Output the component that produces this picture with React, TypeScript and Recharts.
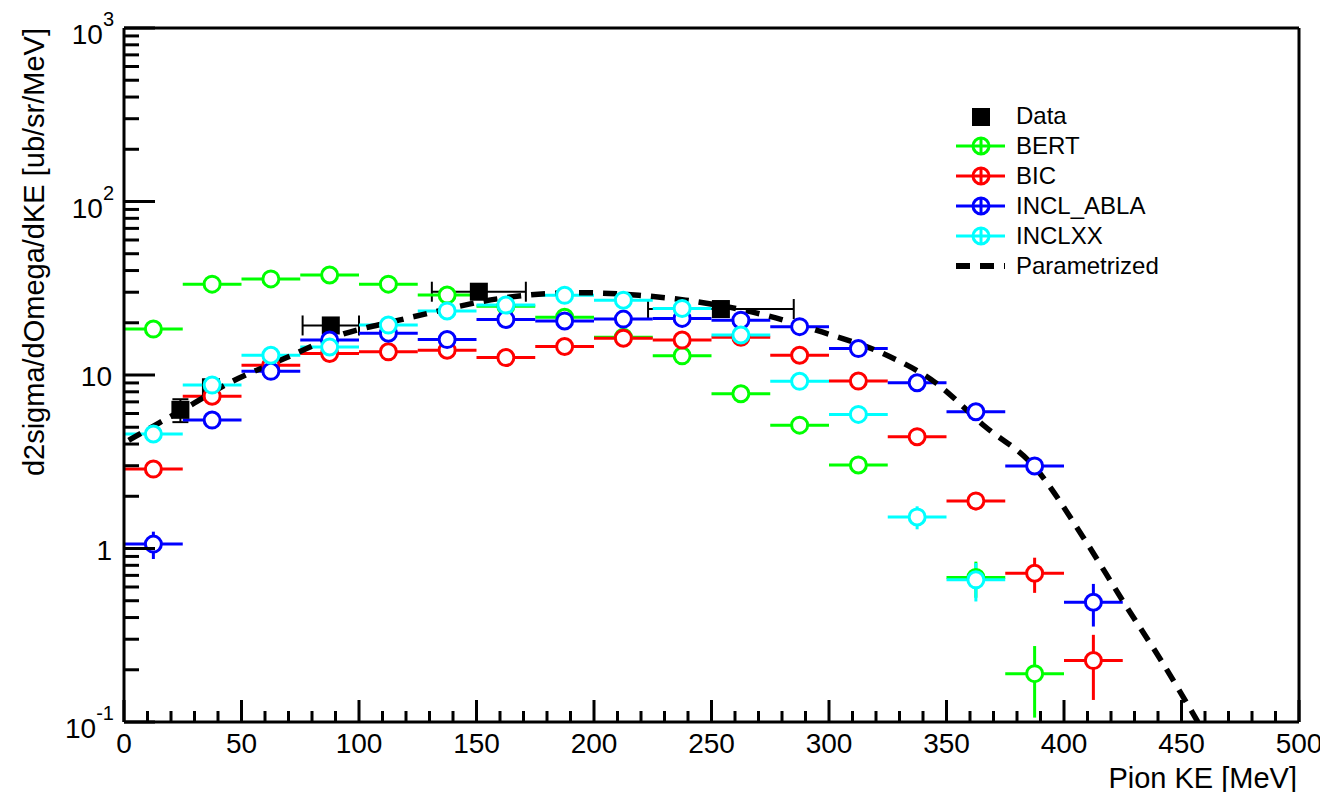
import {
  ComposedChart,
  Scatter,
  Line,
  XAxis,
  YAxis,
  ErrorBar,
  ReferenceLine,
  Legend,
  Label,
} from "recharts";

const FONT = '"Liberation Sans", Arial, Helvetica, sans-serif';

// bin centres of the model histograms (25 MeV bins)
const binCenters = [
  12.5, 37.5, 62.5, 87.5, 112.5, 137.5, 162.5, 187.5, 212.5, 237.5, 262.5,
  287.5, 312.5, 337.5, 362.5, 387.5, 412.5,
];
const binHalfWidth = 12.5;

const bertValues = [
  18.4, 33.4, 35.8, 37.7, 33.4, 28.9, 24.9, 21.5, 16.5, 12.9, 7.8, 5.14, 3.03,
  null, 0.68, 0.19, null,
];
const bertErrors = [0, 0, 0, 0, 0, 0, 0, 0, 0, 0, 0, 0, 0, 0, 0.16, 0.084, 0];

const bicValues = [
  2.87, 7.55, 11.4, 13.3, 13.6, 13.9, 12.6, 14.6, 16.3, 15.9, 16.5, 13.0, 9.23,
  4.41, 1.88, 0.72, 0.226,
];
const bicErrors = [0, 0, 0, 0, 0, 0, 0, 0, 0, 0, 0, 0, 0, 0, 0.22, 0.165, 0.092];

const ablaValues = [
  1.06, 5.5, 10.5, 15.9, 17.4, 16.0, 20.9, 20.5, 21.0, 21.2, 20.7, 19.0, 14.2,
  9.02, 6.14, 2.99, 0.49,
];
const ablaErrors = [0.19, 0, 0, 0, 0, 0, 0, 0, 0, 0, 0, 0, 0, 0, 0, 0, 0.135];

const inclxxValues = [
  4.57, 8.75, 13.0, 14.5, 19.4, 23.4, 25.3, 28.8, 27.0, 24.2, 17.0, 9.2, 5.93,
  1.52, 0.66, null, null,
];
const inclxxErrors = [0, 0, 0, 0, 0, 0, 0, 0, 0, 0, 0, 0, 0, 0.23, 0.165, 0, 0];

// measured points
const dataX = [24, 37, 88, 151, 254];
const dataY = [6.3, 8.5, 19.3, 30.2, 24.0];
const dataXErr = [0, 0, 12, 20, 31];
const dataYErr = [0.95, 0.6, 1.0, 1.5, 1.5];

// parametrized curve
const paramX = [
  2, 15, 30, 42, 68, 92, 117, 132, 160, 181, 195, 219, 239, 273, 297, 323, 345,
  366, 387, 408, 425, 441, 457,
];
const paramY = [
  4.2, 5.3, 6.9, 8.6, 12.4, 17.0, 20.7, 23.1, 27.6, 29.5, 29.8, 28.8, 27.0, 22.1,
  17.7, 13.3, 9.1, 5.1, 3.0, 1.17, 0.5, 0.23, 0.1,
];

const xTicks = Array.from({ length: 51 }, (_, i) => i * 10);
const decades = [0.1, 1, 10, 100];
const yTicks = [...decades.flatMap((d) => [1, 2, 3, 4, 5, 6, 7, 8, 9].map((k) => d * k)), 1000];

const COLORS = {
  BERT: "#00ff00",
  BIC: "#ff0000",
  INCL_ABLA: "#0000ff",
  INCLXX: "#00ffff",
};

function modelSeries(values: (number | null)[], errors: number[]) {
  return binCenters
    .map((x, i) => ({ x, y: values[i], ex: binHalfWidth, ey: errors[i] }))
    .filter((d) => d.y != null);
}

const bertData = modelSeries(bertValues, bertErrors);
const bicData = modelSeries(bicValues, bicErrors);
const ablaData = modelSeries(ablaValues, ablaErrors);
const inclxxData = modelSeries(inclxxValues, inclxxErrors);
const measured = dataX.map((x, i) => ({ x, y: dataY[i], ex: dataXErr[i], ey: dataYErr[i] }));
const paramData = paramX.map((x, i) => ({ x, y: paramY[i] }));

const circle = (color: string) => (p: any) =>
  <circle cx={p.cx} cy={p.cy} r={8} fill="#fff" stroke={color} strokeWidth={3} />;

const square = (p: any) => <rect x={p.cx - 9} y={p.cy - 9} width={18} height={18} fill="#000" />;

function XTick(props: any) {
  const { x, y, payload } = props;
  const v = payload.value;
  const major = v % 50 === 0;
  return (
    <g>
      <line x1={x} x2={x} y1={y} y2={y - (major ? 22 : 11)} stroke="#000" strokeWidth={3} />
      {major && (
        <text x={x} y={y + 31} textAnchor="middle" fontSize={28} fontFamily={FONT} fill="#000">
          {v}
        </text>
      )}
    </g>
  );
}

function YTick(props: any) {
  const { x, y, payload } = props;
  const lg = Math.log10(payload.value);
  const exp = Math.round(lg);
  const major = Math.abs(lg - exp) < 1e-6;
  let label = null;
  if (major) {
    if (exp === 0 || exp === 1) {
      label = (
        <text x={x - 12} y={y + 11} textAnchor="end" fontSize={28} fontFamily={FONT} fill="#000">
          {exp === 0 ? "1" : "10"}
        </text>
      );
    } else {
      label = (
        <text x={x - 10} y={y + 16} textAnchor="end" fontSize={28} fontFamily={FONT} fill="#000">
          <tspan>10</tspan>
          <tspan dy={-18} fontSize={20}>{exp}</tspan>
        </text>
      );
    }
  }
  return (
    <g>
      <line x1={x} x2={x + (major ? 31 : 15)} y1={y} y2={y} stroke="#000" strokeWidth={3} />
      {label}
    </g>
  );
}

const legendItems = [
  { name: "BERT", color: COLORS.BERT },
  { name: "BIC", color: COLORS.BIC },
  { name: "INCL_ABLA", color: COLORS.INCL_ABLA },
  { name: "INCLXX", color: COLORS.INCLXX },
];

function renderLegend() {
  const rowY = (i: number) => 17 + i * 30;
  return (
    <svg width={240} height={190} style={{ display: "block" }}>
      <rect x={24} y={rowY(0) - 7} width={18} height={18} fill="#000" />
      <text x={68} y={rowY(0) + 8.5} fontSize={24} fontFamily={FONT}>Data</text>
      {legendItems.map((it, k) => {
        const cy = rowY(k + 1) + 1;
        return (
          <g key={it.name}>
            <line x1={8} x2={57} y1={cy} y2={cy} stroke={it.color} strokeWidth={3} />
            <line x1={33} x2={33} y1={cy - 8} y2={cy + 8} stroke={it.color} strokeWidth={3} />
            <circle cx={33} cy={cy} r={8} fill="none" stroke={it.color} strokeWidth={3} />
            <text x={68} y={rowY(k + 1) + 8.5} fontSize={24} fontFamily={FONT}>{it.name}</text>
          </g>
        );
      })}
      <line x1={8} x2={57} y1={rowY(5) + 1} y2={rowY(5) + 1} stroke="#000" strokeWidth={6} strokeDasharray="14 10" />
      <text x={68} y={rowY(5) + 8.5} fontSize={24} fontFamily={FONT}>Parametrized</text>
    </svg>
  );
}

export default function App() {
  // negative margin cancels the body margin so the chart fills the whole window
  return (
    <div style={{ width: 1328, height: 800, margin: -8 }}>
      <ComposedChart width={1328} height={800} margin={{ top: 28, right: 29, left: 0, bottom: 0 }}>
        <XAxis
          dataKey="x"
          type="number"
          domain={[0, 500]}
          ticks={xTicks}
          interval={0}
          allowDataOverflow
          height={78}
          tickSize={0}
          tickMargin={0}
          tickLine={false}
          axisLine={{ stroke: "#000", strokeWidth: 3 }}
          tick={(p: any) => <XTick {...p} />}
        >
          <Label
            content={(p: any) => (
              <text
                x={p.viewBox.x + p.viewBox.width - 2}
                y={p.viewBox.y + 66}
                textAnchor="end"
                fontSize={29}
                fontFamily={FONT}
                fill="#000"
              >
                Pion KE [MeV]
              </text>
            )}
          />
        </XAxis>
        <YAxis
          dataKey="y"
          type="number"
          scale="log"
          domain={[0.1, 1000]}
          ticks={yTicks}
          interval={0}
          allowDataOverflow
          width={124}
          tickSize={0}
          tickMargin={0}
          tickLine={false}
          axisLine={{ stroke: "#000", strokeWidth: 3 }}
          tick={(p: any) => <YTick {...p} />}
        >
          <Label
            content={(p: any) => {
              const x = p.viewBox.x + 44;
              const y = p.viewBox.y;
              return (
                <text
                  x={x}
                  y={y}
                  transform={`rotate(-90, ${x}, ${y})`}
                  textAnchor="end"
                  fontSize={29}
                  fontFamily={FONT}
                  fill="#000"
                >
                  d2sigma/dOmega/dKE [ub/sr/MeV]
                </text>
              );
            }}
          />
        </YAxis>
        <ReferenceLine y={1000} stroke="#000" strokeWidth={3} />
        <ReferenceLine x={500} stroke="#000" strokeWidth={3} />

        <Scatter name="Data" data={measured} shape={square} isAnimationActive={false}>
          <ErrorBar dataKey="ex" direction="x" width={10} stroke="#000" strokeWidth={2} />
          <ErrorBar dataKey="ey" direction="y" width={8} stroke="#000" strokeWidth={2} />
        </Scatter>
        <Scatter name="BERT" data={bertData} shape={circle(COLORS.BERT)} isAnimationActive={false}>
          <ErrorBar dataKey="ex" direction="x" width={0} stroke={COLORS.BERT} strokeWidth={3} />
          <ErrorBar dataKey="ey" direction="y" width={0} stroke={COLORS.BERT} strokeWidth={3} />
        </Scatter>
        <Scatter name="BIC" data={bicData} shape={circle(COLORS.BIC)} isAnimationActive={false}>
          <ErrorBar dataKey="ex" direction="x" width={0} stroke={COLORS.BIC} strokeWidth={3} />
          <ErrorBar dataKey="ey" direction="y" width={0} stroke={COLORS.BIC} strokeWidth={3} />
        </Scatter>
        <Scatter name="INCL_ABLA" data={ablaData} shape={circle(COLORS.INCL_ABLA)} isAnimationActive={false}>
          <ErrorBar dataKey="ex" direction="x" width={0} stroke={COLORS.INCL_ABLA} strokeWidth={3} />
          <ErrorBar dataKey="ey" direction="y" width={0} stroke={COLORS.INCL_ABLA} strokeWidth={3} />
        </Scatter>
        <Scatter name="INCLXX" data={inclxxData} shape={circle(COLORS.INCLXX)} isAnimationActive={false}>
          <ErrorBar dataKey="ex" direction="x" width={0} stroke={COLORS.INCLXX} strokeWidth={3} />
          <ErrorBar dataKey="ey" direction="y" width={0} stroke={COLORS.INCLXX} strokeWidth={3} />
        </Scatter>
        <Line
          name="Parametrized"
          data={paramData}
          dataKey="y"
          type="monotone"
          stroke="#000"
          strokeWidth={5.5}
          strokeDasharray="14 10"
          dot={false}
          activeDot={false}
          isAnimationActive={false}
        />
        <Legend
          content={renderLegend}
          layout="vertical"
          align="center"
          verticalAlign="middle"
          wrapperStyle={{ left: 948, top: 98, width: 240, height: 190 }}
        />
      </ComposedChart>
    </div>
  );
}
